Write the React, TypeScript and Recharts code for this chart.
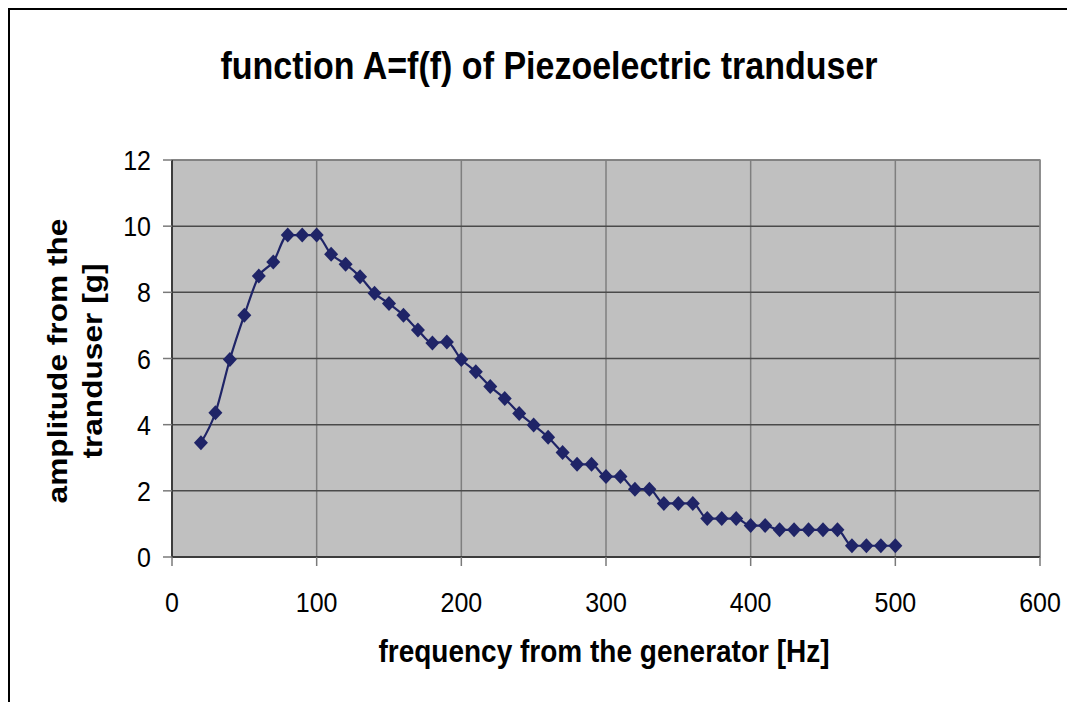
import {
  LineChart,
  Line,
  XAxis,
  YAxis,
  CartesianGrid,
  ReferenceArea,
} from 'recharts';

const frequencies = [
  20, 30, 40, 50, 60, 70, 80, 90, 100, 110, 120, 130, 140, 150, 160, 170, 180,
  190, 200, 210, 220, 230, 240, 250, 260, 270, 280, 290, 300, 310, 320, 330,
  340, 350, 360, 370, 380, 390, 400, 410, 420, 430, 440, 450, 460, 470, 480,
  490, 500,
];
const amplitudes = [
  3.45, 4.36, 5.97, 7.31, 8.49, 8.92, 9.73, 9.73, 9.73, 9.15, 8.85, 8.47, 7.97,
  7.66, 7.31, 6.86, 6.47, 6.5, 5.97, 5.6, 5.15, 4.79, 4.34, 3.99, 3.62, 3.16,
  2.8, 2.8, 2.43, 2.43, 2.05, 2.05, 1.62, 1.62, 1.62, 1.16, 1.16, 1.16, 0.95,
  0.95, 0.82, 0.82, 0.82, 0.82, 0.82, 0.34, 0.34, 0.34, 0.34,
];
const xTicks = [0, 100, 200, 300, 400, 500, 600];
const yTicks = [0, 2, 4, 6, 8, 10, 12];

const data = frequencies.map((f, i) => ({ f, a: amplitudes[i] }));

const NAVY = '#1f2467';
const FONT = '"Liberation Sans", Arial, sans-serif';
const STRETCH = 1.13;

const XTick = ({ x, y, payload }: any) => (
  <g transform={`translate(${x},${y}) scale(1,${STRETCH})`}>
    <text textAnchor="middle" dy="0.716em" fontSize={25} fontFamily={FONT} fill="#000">
      {payload.value}
    </text>
  </g>
);

const YTick = ({ x, y, payload }: any) => (
  <g transform={`translate(${x},${y}) scale(1,${STRETCH})`}>
    <text textAnchor="end" dy="0.358em" fontSize={25} fontFamily={FONT} fill="#000">
      {payload.value}
    </text>
  </g>
);

const Diamond = ({ cx, cy, index }: any) => (
  <path
    key={index}
    d={`M${cx},${cy - 7.5} L${cx + 7},${cy} L${cx},${cy + 7.5} L${cx - 7},${cy} Z`}
    fill={NAVY}
  />
);

export default function App() {
  return (
    <div
      style={{
        position: 'relative',
        width: 1067,
        height: 694,
        marginRight: -8,
        overflow: 'hidden',
        background: '#fff',
        fontFamily: FONT,
      }}
    >
      <div
        style={{
          position: 'absolute',
          left: 0,
          top: 0,
          width: 1067,
          height: 694,
          borderLeft: '2px solid #000',
          borderTop: '2px solid #000',
          boxSizing: 'border-box',
        }}
      />
      <div
        style={{
          position: 'absolute',
          left: 541,
          top: 57,
          transform: `translate(-50%,-50%) scaleY(${STRETCH})`,
          fontSize: 34,
          fontWeight: 'bold',
          lineHeight: 1,
          whiteSpace: 'nowrap',
        }}
      >
        function A=f(f) of Piezoelectric tranduser
      </div>
      <div
        style={{
          position: 'absolute',
          left: 596,
          top: 644,
          transform: `translate(-50%,-50%) scaleY(${STRETCH})`,
          fontSize: 28,
          fontWeight: 'bold',
          lineHeight: 1,
          whiteSpace: 'nowrap',
        }}
      >
        frequency from the generator [Hz]
      </div>
      <div
        style={{
          position: 'absolute',
          left: 67,
          top: 353,
          transform: `translate(-50%,-50%) scaleY(${STRETCH}) rotate(-90deg)`,
          fontSize: 28,
          fontWeight: 'bold',
          lineHeight: '35px',
          whiteSpace: 'nowrap',
          textAlign: 'center',
        }}
      >
        amplitude from the
        <br />
        tranduser [g]
      </div>
      <div style={{ position: 'absolute', left: 0, top: 0 }}>
        <LineChart
          width={1067}
          height={694}
          data={data}
          margin={{ top: 152, right: 35, left: 0, bottom: 105 }}
        >
          <CartesianGrid
            horizontal={false}
            stroke="#7f7f7f"
            strokeWidth={1.5}
            fill="#c0c0c0"
            fillOpacity={1}
          />
          <CartesianGrid vertical={false} stroke="#4a4a4a" strokeWidth={1.5} />
          <ReferenceArea
            x1={0}
            x2={600}
            y1={0}
            y2={12}
            fill="none"
            fillOpacity={0}
            stroke="#8a8a8a"
            strokeWidth={1.5}
          />
          <XAxis
            dataKey="f"
            type="number"
            domain={[0, 600]}
            ticks={xTicks}
            height={40}
            tickSize={9}
            tickMargin={26}
            tick={<XTick />}
            axisLine={{ stroke: '#3c3c3c', strokeWidth: 2 }}
            tickLine={{ stroke: '#7a7a7a', strokeWidth: 1.5 }}
            interval={0}
          />
          <YAxis
            type="number"
            domain={[0, 12]}
            ticks={yTicks}
            width={164}
            tickSize={9}
            tickMargin={12}
            tick={<YTick />}
            axisLine={{ stroke: '#3c3c3c', strokeWidth: 2 }}
            tickLine={{ stroke: '#7a7a7a', strokeWidth: 1.5 }}
            interval={0}
          />
          <Line
            type="monotone"
            dataKey="a"
            stroke={NAVY}
            strokeWidth={2.2}
            dot={<Diamond />}
            activeDot={false}
            isAnimationActive={false}
          />
        </LineChart>
      </div>
    </div>
  );
}
